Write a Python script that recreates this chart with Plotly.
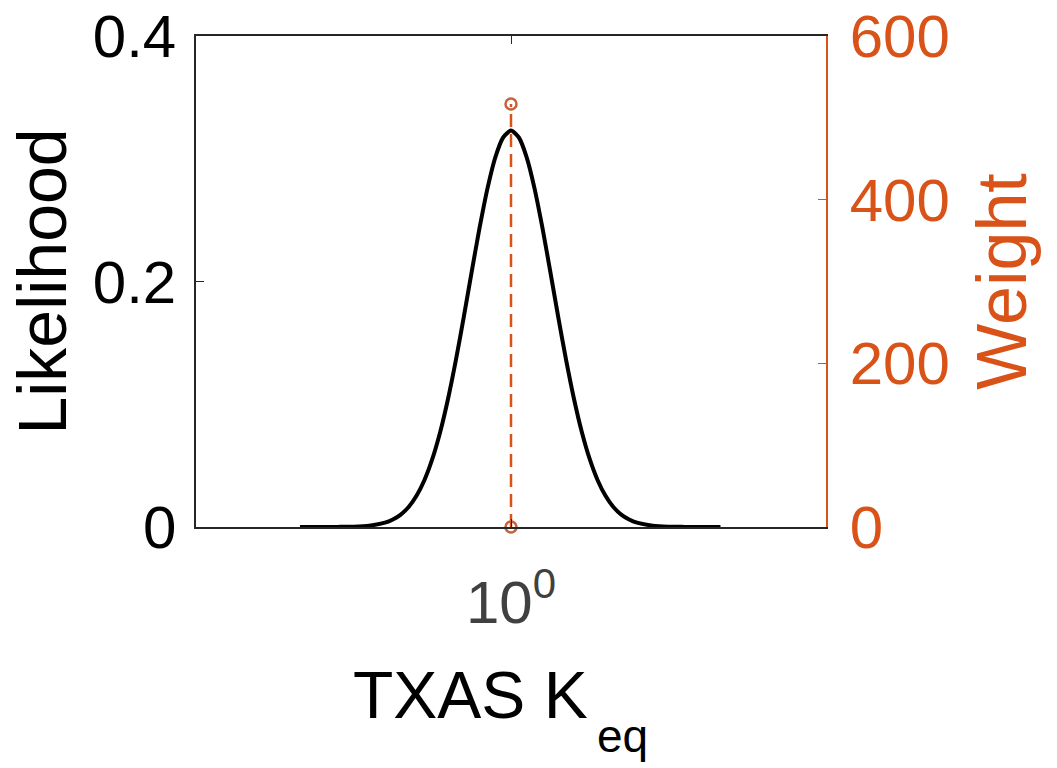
import plotly.graph_objects as go

# Likelihood profile over log10(K_eq)
log_keq = [-0.67, -0.6, -0.55, -0.5, -0.45, -0.4, -0.375, -0.35, -0.325, -0.3,
           -0.275, -0.25, -0.225, -0.2, -0.175, -0.15, -0.125, -0.1, -0.075,
           -0.05, -0.025, 0.0, 0.025, 0.05, 0.075, 0.1, 0.125, 0.15, 0.175,
           0.2, 0.225, 0.25, 0.275, 0.3, 0.325, 0.35, 0.375, 0.4, 0.45, 0.5,
           0.55, 0.6, 0.665]
likelihood = [0.0, 0.0, 0.0001, 0.0003, 0.0011, 0.0035, 0.0061, 0.0101, 0.0163,
              0.0254, 0.0381, 0.0552, 0.0772, 0.1043, 0.1359, 0.171, 0.2077,
              0.2434, 0.2755, 0.301, 0.3173, 0.323, 0.3173, 0.301, 0.2755,
              0.2434, 0.2077, 0.171, 0.1359, 0.1043, 0.0772, 0.0552, 0.0381,
              0.0254, 0.0163, 0.0101, 0.0061, 0.0035, 0.0011, 0.0003, 0.0001,
              0.0, 0.0]

# Sample weight (stem)
weight_keq = [1.0]
weight_val = [517]

left_ticks = [0, 0.2, 0.4]
left_ticktext = ["0", "0.2", "0.4"]
right_ticks = [0, 200, 400, 600]

ORANGE = "#D95319"
AXIS = "#262626"
FONT = "Liberation Sans, Arial, Helvetica, sans-serif"

keq = [10 ** v for v in log_keq]

fig = go.Figure()
fig.add_trace(go.Scatter(
    x=keq, y=likelihood, mode="lines",
    line=dict(color="black", width=4, shape="spline", smoothing=0.6),
    showlegend=False, yaxis="y",
))
for xv, wv in zip(weight_keq, weight_val):
    fig.add_trace(go.Scatter(
        x=[xv, xv], y=[0, wv], mode="lines+markers",
        line=dict(color=ORANGE, width=2.5, dash="13px,7px"),
        marker=dict(symbol="circle-open", size=11, color="#C4623C",
                    line=dict(width=2.5)),
        showlegend=False, yaxis="y2", cliponaxis=False,
    ))

# x-axis label "TXAS K" with a lowered "eq" subscript
fig.add_annotation(text="TXAS K", xref="paper", yref="paper",
                   x=0.6254, y=-0.342, xanchor="right", yanchor="middle",
                   showarrow=False, font=dict(size=66, color="black"))
fig.add_annotation(text="eq", xref="paper", yref="paper",
                   x=0.6333, y=-0.4257, xanchor="left", yanchor="middle",
                   showarrow=False, font=dict(size=46, color="black"))

fig.update_layout(
    width=1057, height=768,
    margin=dict(l=196, r=231, t=36, b=241),
    paper_bgcolor="white", plot_bgcolor="white",
    font=dict(family=FONT, size=60, color=AXIS),
    xaxis=dict(
        type="log", range=[-1, 1], automargin=False,
        tickvals=[1], ticktext=["10<sup>0</sup>"],
        ticks="inside", ticklen=8, tickcolor=AXIS,
        showline=True, linecolor=AXIS, linewidth=1.5, mirror="ticks",
        showgrid=False, zeroline=False,
        tickfont=dict(size=60, color="#404040"),
        ticklabelstandoff=22,
    ),
    yaxis=dict(
        range=[0, 0.4], tickvals=left_ticks, ticktext=left_ticktext,
        automargin=False,
        ticks="inside", ticklen=8, tickcolor=AXIS,
        showline=True, linecolor=AXIS, linewidth=1.5,
        showgrid=False, zeroline=False,
        tickfont=dict(size=60, color="black"),
        ticklabelstandoff=6,
        title=dict(text="Likelihood", font=dict(size=68, color="black"),
                   standoff=4),
    ),
    yaxis2=dict(
        range=[0, 600], tickvals=right_ticks, automargin=False,
        overlaying="y", side="right",
        ticks="inside", ticklen=8, tickcolor=ORANGE,
        showline=True, linecolor=ORANGE, linewidth=1.5,
        showgrid=False, zeroline=False,
        tickfont=dict(size=60, color=ORANGE),
        ticklabelstandoff=10,
        title=dict(text="Weight", font=dict(size=70, color=ORANGE),
                   standoff=28),
    ),
)

fig.write_html("out.html")
